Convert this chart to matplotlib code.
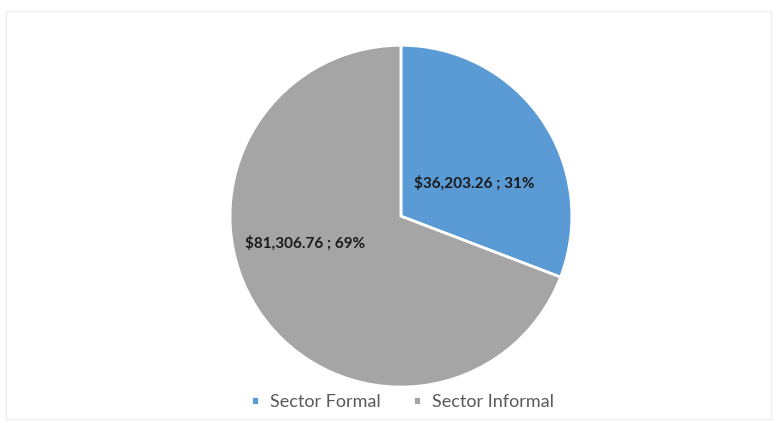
import matplotlib.pyplot as plt
from matplotlib.patches import Rectangle

labels = ["Sector Formal", "Sector Informal"]
values = [36203.26, 81306.76]
pcts = [31, 69]
colors = ["#5B9BD5", "#A5A5A5"]

fig = plt.figure(figsize=(7.77, 4.23), dpi=100)
fig.patch.set_facecolor("white")
# faint chart border
fig.add_artist(Rectangle((0.008, 0.01), 0.984, 0.965, transform=fig.transFigure,
                         fill=False, edgecolor="#EEEEEE", linewidth=1))

ax = fig.add_axes([0.296, 0.085, 0.440, 0.808])
wedges, _ = ax.pie(values, colors=colors, startangle=90, counterclock=False,
                   wedgeprops=dict(edgecolor="white", linewidth=2))
ax.set_xlim(-1.0, 1.0)
ax.set_ylim(-1.0, 1.0)
ax.set_aspect("equal")

label_pos = [(0.43, 0.19), (-0.56, -0.16)]
for v, p, (x, y) in zip(values, pcts, label_pos):
    ax.text(x, y, f"${v:,.2f} ; {p}%", ha="center", va="center",
            fontsize=11, fontweight="bold", family="Lato", color="#1a1a1a")

fig.legend(wedges, labels, loc="center", bbox_to_anchor=(0.518, 0.05), ncol=2,
           frameon=False, handlelength=0.45, handleheight=0.45, handletextpad=0.6,
           columnspacing=1.8, prop={"family": "Lato", "size": 13},
           labelcolor="#595959")

fig.savefig("out.png", dpi=100)
